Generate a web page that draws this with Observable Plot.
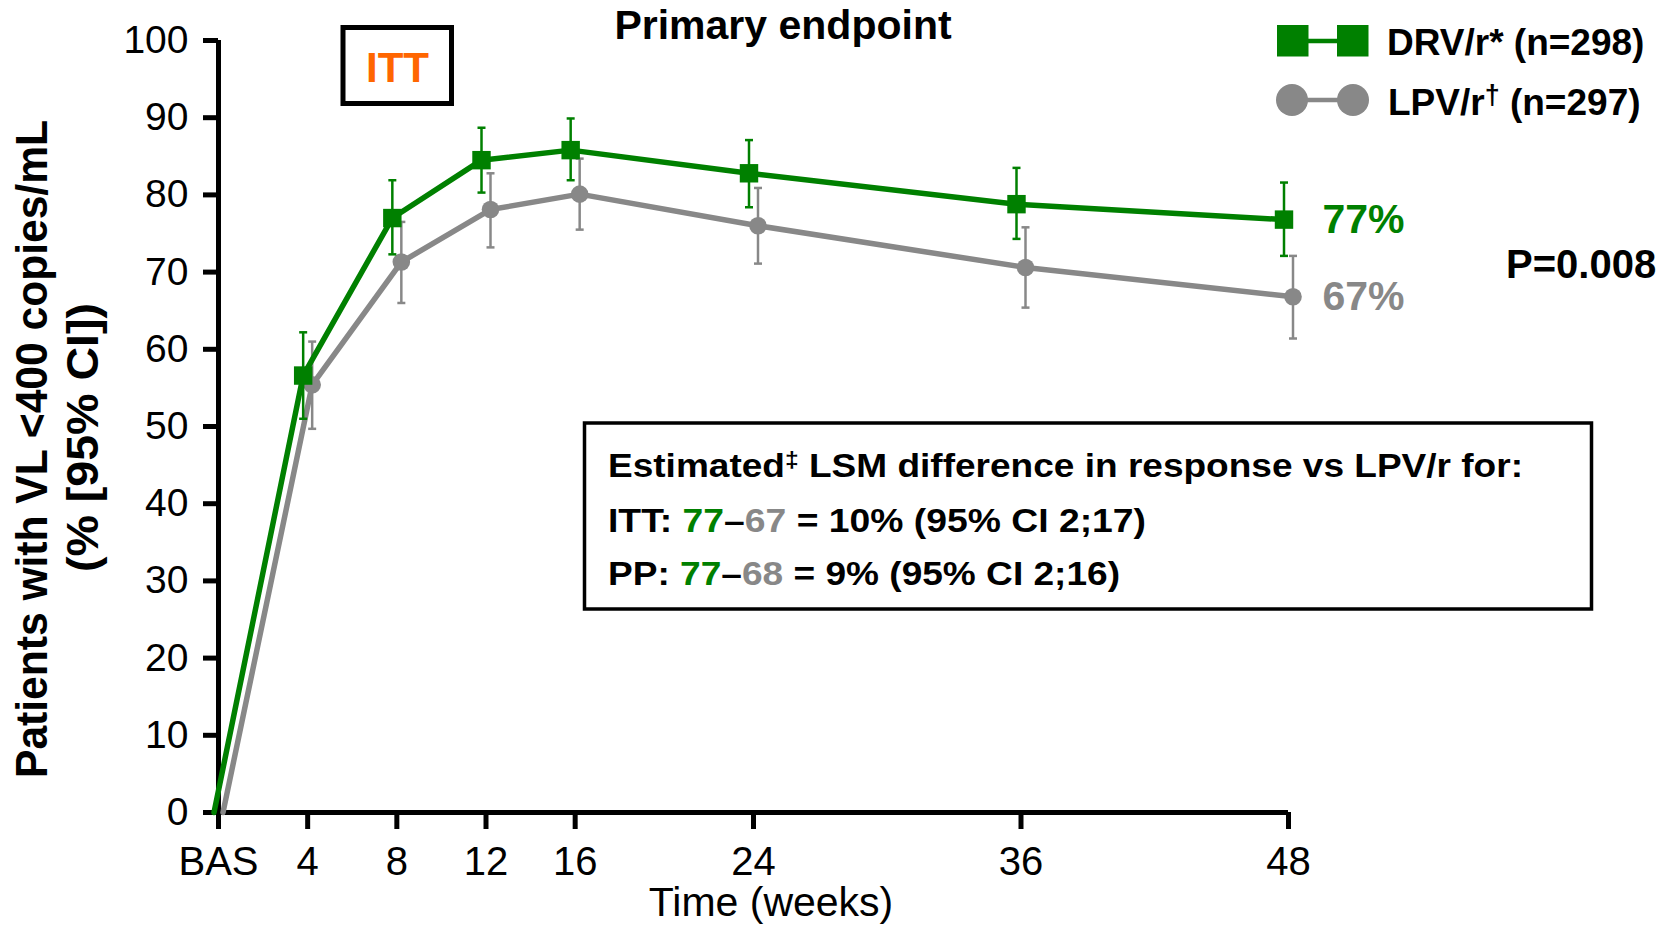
<!DOCTYPE html>
<html><head><meta charset="utf-8">
<script src="https://cdn.jsdelivr.net/npm/d3@7"></script>
<script src="https://cdn.jsdelivr.net/npm/@observablehq/plot@0.6"></script>
<style>
body{margin:0;background:#fff;}
svg{display:block}
</style>
</head><body><div id="chart"></div>
<script>
// ---- data ----
const weeks      = [0, 4, 8, 12, 16, 24, 36, 48];
const xTickLabels = ["BAS", "4", "8", "12", "16", "24", "36", "48"];
const yTicks     = [0, 10, 20, 30, 40, 50, 60, 70, 80, 90, 100];

const drvMean = [0, 56.6, 77.0, 84.5, 85.8, 82.8, 78.8, 76.8];
const drvLow  = [null, 51.0, 72.3, 80.3, 81.9, 78.4, 74.3, 72.1];
const drvHigh = [null, 62.2, 81.9, 88.7, 89.9, 87.1, 83.5, 81.6];

const lpvMean = [0, 55.4, 71.3, 78.1, 80.1, 76.0, 70.6, 66.8];
const lpvLow  = [null, 49.7, 66.0, 73.2, 75.5, 71.1, 65.4, 61.4];
const lpvHigh = [null, 61.0, 76.5, 82.8, 84.7, 80.9, 75.8, 72.1];

const seriesNames = ["DRV/r* (n=298)", "LPV/r† (n=297)"];
const endLabels = ["77%", "67%"];

const GREEN = "#008000";
const GRAY = "#888888";
const FONT = "'Liberation Sans', Arial, Helvetica, sans-serif";

const drv = weeks.map((w, i) => ({week: w, v: drvMean[i], lo: drvLow[i], hi: drvHigh[i]}));
const lpv = weeks.map((w, i) => ({week: w, v: lpvMean[i], lo: lpvLow[i], hi: lpvHigh[i]}));
const drvCI = drv.filter(d => d.lo != null);
const lpvCI = lpv.filter(d => d.lo != null);

const cap = {draw(ctx) { ctx.moveTo(-4, 0); ctx.lineTo(4, 0); }};

const DX_G = -4.5, DX_L = 4.5;

const plot = Plot.plot({
  width: 1680,
  height: 925,
  marginLeft: 218,
  marginRight: 392,
  marginTop: 40,
  marginBottom: 113,
  style: {fontFamily: FONT, background: "#fff", color: "#000"},
  x: {domain: [0, 48]},
  y: {domain: [0, 100]},
  marks: [
    Plot.axisY({ticks: yTicks, tickSize: 15, tickPadding: 15, fontSize: 39, strokeWidth: 5, label: null}),
    Plot.axisX({ticks: weeks, tickSize: 17, tickPadding: 17, fontSize: 40, strokeWidth: 5, label: null,
      tickFormat: d => xTickLabels[weeks.indexOf(d)]}),
    Plot.ruleY([0], {stroke: "#000", strokeWidth: 5}),
    Plot.ruleX([0], {stroke: "#000", strokeWidth: 5}),
    // LPV (gray)
    Plot.ruleX(lpvCI, {x: "week", y1: "lo", y2: "hi", stroke: GRAY, strokeWidth: 2.5, dx: DX_L}),
    Plot.dot(lpvCI, {x: "week", y: "lo", symbol: cap, stroke: GRAY, strokeWidth: 2.5, dx: DX_L}),
    Plot.dot(lpvCI, {x: "week", y: "hi", symbol: cap, stroke: GRAY, strokeWidth: 2.5, dx: DX_L}),
    Plot.line(lpv, {x: "week", y: "v", stroke: GRAY, strokeWidth: 5.5, dx: DX_L}),
    Plot.dot(lpvCI, {x: "week", y: "v", symbol: "circle", r: 8.8, fill: GRAY, dx: DX_L}),
    // DRV (green)
    Plot.ruleX(drvCI, {x: "week", y1: "lo", y2: "hi", stroke: GREEN, strokeWidth: 2.5, dx: DX_G}),
    Plot.dot(drvCI, {x: "week", y: "lo", symbol: cap, stroke: GREEN, strokeWidth: 2.5, dx: DX_G}),
    Plot.dot(drvCI, {x: "week", y: "hi", symbol: cap, stroke: GREEN, strokeWidth: 2.5, dx: DX_G}),
    Plot.line(drv, {x: "week", y: "v", stroke: GREEN, strokeWidth: 5.5, dx: DX_G}),
    Plot.dot(drvCI, {x: "week", y: "v", symbol: "square", r: 10.4, fill: GREEN, dx: DX_G}),
    // end labels
    Plot.text([drv[drv.length - 1]], {x: "week", y: "v", text: () => endLabels[0], fill: GREEN,
      fontSize: 41, fontWeight: "bold", textAnchor: "start", dx: 34}),
    Plot.text([lpv[lpv.length - 1]], {x: "week", y: "v", text: () => endLabels[1], fill: GRAY,
      fontSize: 41, fontWeight: "bold", textAnchor: "start", dx: 34})
  ]
});

document.getElementById("chart").append(plot);

const svg = d3.select(plot);
const g = svg.append("g").attr("font-family", FONT).attr("fill", "#000").attr("text-anchor", "start");

// chart title
g.append("text").attr("x", 783).attr("y", 39).attr("text-anchor", "middle")
  .attr("font-size", 41).attr("font-weight", "bold").text("Primary endpoint");

// ITT box
g.append("rect").attr("x", 343).attr("y", 27.5).attr("width", 108.5).attr("height", 76)
  .attr("fill", "none").attr("stroke", "#000").attr("stroke-width", 5);
g.append("text").attr("x", 397.5).attr("y", 81.5).attr("text-anchor", "middle")
  .attr("font-size", 42).attr("font-weight", "bold").attr("fill", "#FF6600").text("ITT");

// y axis title
g.append("text").attr("transform", "translate(47,449) rotate(-90)").attr("text-anchor", "middle")
  .attr("font-size", 44).attr("font-weight", "bold")
  .attr("textLength", 658).attr("lengthAdjust", "spacingAndGlyphs")
  .text("Patients with VL <400 copies/mL");
g.append("text").attr("transform", "translate(97.5,437.5) rotate(-90)").attr("text-anchor", "middle")
  .attr("font-size", 44).attr("font-weight", "bold")
  .attr("textLength", 269).attr("lengthAdjust", "spacingAndGlyphs")
  .text("(% [95% CI])");

// x axis title
g.append("text").attr("x", 771).attr("y", 916).attr("text-anchor", "middle")
  .attr("font-size", 41).text("Time (weeks)");

// legend
const lg = g.append("g");
lg.append("line").attr("x1", 1292).attr("x2", 1353).attr("y1", 41).attr("y2", 41)
  .attr("stroke", GREEN).attr("stroke-width", 4.5);
lg.append("rect").attr("x", 1277).attr("y", 25).attr("width", 31.5).attr("height", 31.5).attr("fill", GREEN);
lg.append("rect").attr("x", 1337).attr("y", 25).attr("width", 31.5).attr("height", 31.5).attr("fill", GREEN);
lg.append("text").attr("x", 1387).attr("y", 55).attr("font-size", 37).attr("font-weight", "bold")
  .text(seriesNames[0]);
lg.append("line").attr("x1", 1292).attr("x2", 1353).attr("y1", 100).attr("y2", 100)
  .attr("stroke", GRAY).attr("stroke-width", 4.5);
lg.append("circle").attr("cx", 1292).attr("cy", 100).attr("r", 16).attr("fill", GRAY);
lg.append("circle").attr("cx", 1353).attr("cy", 100).attr("r", 16).attr("fill", GRAY);
const lpvT = lg.append("text").attr("x", 1388).attr("y", 115).attr("font-size", 37).attr("font-weight", "bold");
const [lpvA, lpvB] = seriesNames[1].split("†");
lpvT.append("tspan").text(lpvA);
lpvT.append("tspan").attr("dy", -11).attr("font-size", 27).text("†");
lpvT.append("tspan").attr("dy", 11).text(lpvB);

// P value
g.append("text").attr("x", 1506).attr("y", 278).attr("font-size", 40).attr("font-weight", "bold")
  .text("P=0.008");

// annotation box
g.append("rect").attr("x", 584.5).attr("y", 423).attr("width", 1007).attr("height", 186)
  .attr("fill", "none").attr("stroke", "#000").attr("stroke-width", 3.5);
const a1 = g.append("text").attr("x", 608).attr("y", 477).attr("font-size", 33).attr("font-weight", "bold")
  .attr("textLength", 915).attr("lengthAdjust", "spacingAndGlyphs");
a1.append("tspan").text("Estimated");
a1.append("tspan").attr("dy", -10).attr("font-size", 22).text("‡");
a1.append("tspan").attr("dy", 10).text(" LSM difference in response vs LPV/r for:");

const a2 = g.append("text").attr("x", 608).attr("y", 531.5).attr("font-size", 33).attr("font-weight", "bold")
  .attr("textLength", 538).attr("lengthAdjust", "spacingAndGlyphs");
a2.append("tspan").text("ITT: ");
a2.append("tspan").attr("fill", GREEN).text("77");
a2.append("tspan").text("–");
a2.append("tspan").attr("fill", GRAY).text("67");
a2.append("tspan").text(" = 10% (95% CI 2;17)");

const a3 = g.append("text").attr("x", 608).attr("y", 585).attr("font-size", 33).attr("font-weight", "bold")
  .attr("textLength", 512).attr("lengthAdjust", "spacingAndGlyphs");
a3.append("tspan").text("PP: ");
a3.append("tspan").attr("fill", GREEN).text("77");
a3.append("tspan").text("–");
a3.append("tspan").attr("fill", GRAY).text("68");
a3.append("tspan").text(" = 9% (95% CI 2;16)");
</script>
</body></html>
